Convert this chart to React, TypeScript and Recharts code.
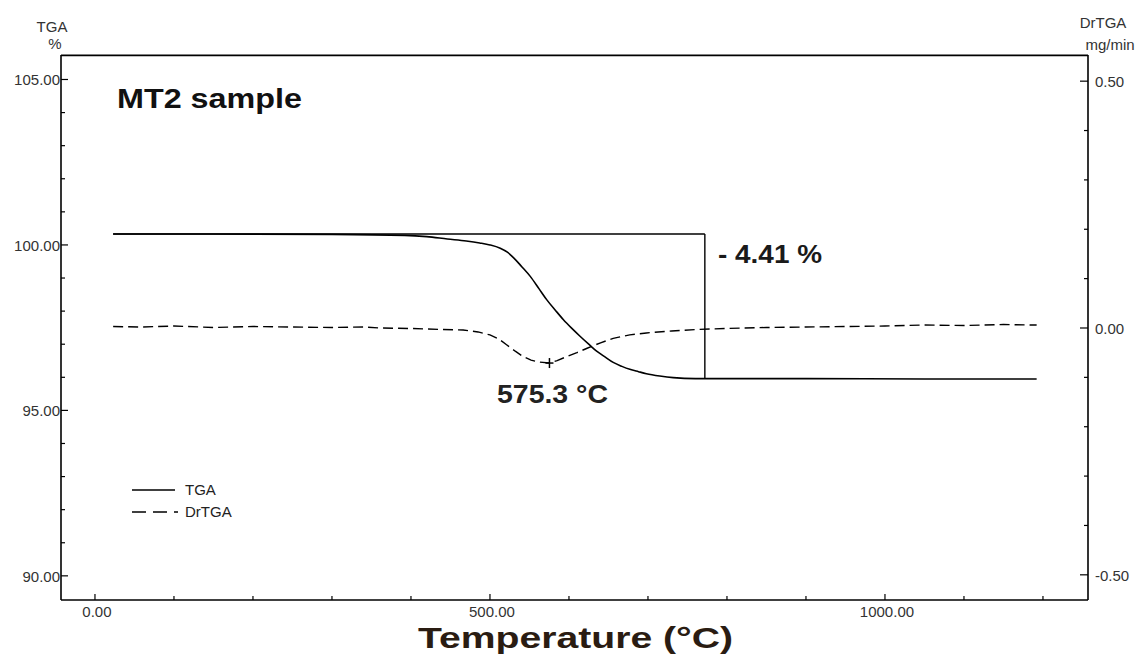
import React from 'react';
import { ComposedChart, Line, XAxis, YAxis, ReferenceLine, ReferenceDot, Legend } from 'recharts';

// ---- data ----
const tgaTemps = [23, 150, 300, 392, 420, 446, 470, 487, 500, 513, 522, 530, 540, 551, 562, 572, 583, 593, 604, 614, 625, 635, 646, 656, 667, 677, 688, 698, 715, 732, 760, 900, 1050, 1192];
const tgaValues = [100.33, 100.33, 100.32, 100.29, 100.25, 100.18, 100.12, 100.06, 100.0, 99.9, 99.78, 99.61, 99.35, 99.05, 98.68, 98.34, 98.02, 97.74, 97.47, 97.24, 97.0, 96.79, 96.61, 96.45, 96.33, 96.24, 96.17, 96.11, 96.04, 95.99, 95.96, 95.96, 95.95, 95.95];

const drTemps = [23, 60, 100, 150, 200, 250, 300, 340, 361, 400, 440, 466, 485, 500, 511, 521, 532, 542, 552, 562, 575.3, 585, 597, 610, 623, 640, 656, 677, 698, 730, 762, 800, 850, 900, 950, 1000, 1050, 1100, 1150, 1192];
const drValues = [0.003, 0.002, 0.004, 0.001, 0.003, 0.002, 0.001, 0.002, 0.0, -0.001, -0.003, -0.004, -0.008, -0.014, -0.022, -0.034, -0.047, -0.058, -0.065, -0.069, -0.071, -0.066, -0.058, -0.05, -0.041, -0.03, -0.021, -0.014, -0.01, -0.006, -0.003, -0.001, 0.001, 0.002, 0.003, 0.004, 0.006, 0.005, 0.007, 0.006];

const seriesNames = ['TGA', 'DrTGA'];

const xTicks = [0, 100, 200, 300, 400, 500, 600, 700, 800, 900, 1000, 1100, 1200];
const xLabelTicks = [0, 500, 1000];
const leftTicks = [90, 91, 92, 93, 94, 95, 96, 97, 98, 99, 100, 101, 102, 103, 104, 105];
const leftLabelTicks = [90, 95, 100, 105];
const rightTicks = [-0.5, -0.4, -0.3, -0.2, -0.1, 0, 0.1, 0.2, 0.3, 0.4, 0.5];
const rightLabelTicks = [-0.5, 0, 0.5];

const xDomain = [-43, 1257];
const leftDomain = [89.27, 105.74];
const rightDomain = [-0.551, 0.553];

const stepStartT = 23;
const stepEndT = 772;
const stepTop = 100.33;
const stepBottom = 95.95;
const peakT = 575.3;
const peakV = -0.071;

const tgaData = tgaTemps.map((t, i) => ({ t, tga: tgaValues[i] }));
const drData = drTemps.map((t, i) => ({ t, dr: drValues[i] }));

const FONT = 'Liberation Sans, Arial, sans-serif';
const isIn = (arr: number[], v: number) => arr.some((a) => Math.abs(a - v) < 1e-6);

const BottomTick = (props: any) => {
  const { x, y, payload } = props;
  const v = payload.value;
  const major = isIn(xLabelTicks, v);
  return (
    <g>
      <line x1={x} x2={x} y1={y} y2={y - (major ? 6 : 4)} stroke="#000" strokeWidth={1.2} />
      {major && (
        <text x={x + 2} y={y + 17} textAnchor="middle" fontSize={15} fill="#333" fontFamily={FONT}>
          {v.toFixed(2)}
        </text>
      )}
    </g>
  );
};

const LeftTick = (props: any) => {
  const { x, y, payload } = props;
  const v = payload.value;
  const major = isIn(leftLabelTicks, v);
  return (
    <g>
      <line x1={x} x2={x + (major ? 7 : 4)} y1={y} y2={y} stroke="#000" strokeWidth={1.2} />
      {major && (
        <text x={x - 1} y={y + 6} textAnchor="end" fontSize={15} fill="#333" fontFamily={FONT}>
          {v.toFixed(2)}
        </text>
      )}
    </g>
  );
};

const RightTick = (props: any) => {
  const { x, y, payload } = props;
  const v = payload.value;
  const major = isIn(rightLabelTicks, v);
  return (
    <g>
      <line x1={x} x2={x - (major ? 8 : 4)} y1={y} y2={y} stroke="#000" strokeWidth={1.2} />
      {major && (
        <text x={x + 7} y={y + 6} textAnchor="start" fontSize={15} fill="#333" fontFamily={FONT}>
          {(Math.abs(v) < 1e-9 ? 0 : v).toFixed(2)}
        </text>
      )}
    </g>
  );
};

const renderLegend = (props: any) => {
  const items = [...(props.payload || [])].sort(
    (a: any, b: any) => seriesNames.indexOf(a.value) - seriesNames.indexOf(b.value)
  );
  return (
    <svg width={140} height={46}>
      {items.map((it: any, i: number) => {
        const dashed = it.value === 'DrTGA';
        return (
          <g key={it.value}>
            <line
              x1={4}
              x2={dashed ? 50 : 47}
              y1={12 + i * 22}
              y2={12 + i * 22}
              stroke="#000"
              strokeWidth={1.5}
              strokeDasharray={dashed ? '14 7' : undefined}
            />
            <text x={57} y={17 + i * 22} fontSize={15} fill="#222" fontFamily={FONT}>
              {it.value}
            </text>
          </g>
        );
      })}
    </svg>
  );
};

const PeakCross = (props: any) => {
  const { cx, cy } = props;
  return (
    <g>
      <line x1={cx} x2={cx} y1={cy - 5} y2={cy + 5} stroke="#000" strokeWidth={1.5} />
      <line x1={cx - 4} x2={cx + 4} y1={cy} y2={cy} stroke="#000" strokeWidth={1.5} />
    </g>
  );
};

export default function App() {
  return (
    <div style={{ position: 'absolute', left: 0, top: 0, width: 1138, height: 655, background: '#fff' }}>
      <ComposedChart width={1138} height={655} margin={{ top: 55, right: 0, bottom: 0, left: 0 }}>
        <XAxis
          dataKey="t"
          type="number"
          domain={xDomain}
          allowDataOverflow
          ticks={xTicks}
          interval={0}
          height={55}
          tickLine={false}
          tickSize={0}
          tickMargin={0}
          tick={<BottomTick />}
          axisLine={{ stroke: '#000', strokeWidth: 1.6 }}
        />
        <YAxis
          yAxisId="left"
          type="number"
          domain={leftDomain}
          allowDataOverflow
          ticks={leftTicks}
          interval={0}
          width={61}
          tickLine={false}
          tickSize={0}
          tickMargin={0}
          tick={<LeftTick />}
          axisLine={{ stroke: '#000', strokeWidth: 1.6 }}
        />
        <YAxis
          yAxisId="right"
          orientation="right"
          type="number"
          domain={rightDomain}
          allowDataOverflow
          ticks={rightTicks}
          interval={0}
          width={50}
          tickLine={false}
          tickSize={0}
          tickMargin={0}
          tick={<RightTick />}
          axisLine={{ stroke: '#000', strokeWidth: 1.6 }}
        />
        <Legend
          layout="horizontal"
          verticalAlign="middle"
          align="center"
          content={renderLegend}
          wrapperStyle={{ position: 'absolute', left: 128, top: 478, width: 140, height: 46 }}
        />
        {/* top frame line */}
        <ReferenceLine
          yAxisId="left"
          segment={[{ x: xDomain[0], y: leftDomain[1] - 0.01 }, { x: xDomain[1], y: leftDomain[1] - 0.01 }]}
          ifOverflow="visible"
          stroke="#000"
          strokeWidth={1.6}
        />
        <ReferenceLine
          yAxisId="left"
          segment={[{ x: stepStartT, y: stepTop }, { x: stepEndT, y: stepTop }]}
          stroke="#000"
          strokeWidth={1.4}
        />
        <ReferenceLine
          yAxisId="left"
          segment={[{ x: stepEndT, y: stepTop }, { x: stepEndT, y: stepBottom }]}
          stroke="#000"
          strokeWidth={1.4}
        />
        <Line
          data={tgaData}
          dataKey="tga"
          name="TGA"
          yAxisId="left"
          type="monotone"
          stroke="#000"
          strokeWidth={1.6}
          dot={false}
          isAnimationActive={false}
        />
        <Line
          data={drData}
          dataKey="dr"
          name="DrTGA"
          yAxisId="right"
          type="linear"
          stroke="#000"
          strokeWidth={1.4}
          strokeDasharray="10 5"
          dot={false}
          isAnimationActive={false}
        />
        <ReferenceDot yAxisId="right" x={peakT} y={peakV} r={0} shape={<PeakCross />} />

        <text x={52} y={32} textAnchor="middle" fontSize={15} fill="#333" fontFamily={FONT}>TGA</text>
        <text x={55} y={49} textAnchor="middle" fontSize={15} fill="#333" fontFamily={FONT}>%</text>
        <text x={1103} y={28} textAnchor="middle" fontSize={15} fill="#333" fontFamily={FONT}>DrTGA</text>
        <text x={1110} y={50} textAnchor="middle" fontSize={15} fill="#333" fontFamily={FONT}>mg/min</text>

        <text x={117} y={108} fontSize={28} fontWeight="bold" fill="#111" fontFamily={FONT} textLength={185} lengthAdjust="spacingAndGlyphs">MT2 sample</text>
        <text x={718} y={263} fontSize={25} fontWeight="bold" fill="#1a1a1a" fontFamily={FONT} textLength={104} lengthAdjust="spacingAndGlyphs">- 4.41 %</text>
        <text x={497} y={403} fontSize={25} fontWeight="bold" fill="#222" fontFamily={FONT} textLength={111} lengthAdjust="spacingAndGlyphs">575.3 °C</text>
        <text x={418} y={648} fontSize={29} fontWeight="bold" fill="#2a1c12" fontFamily={FONT} textLength={315} lengthAdjust="spacingAndGlyphs">Temperature (°C)</text>
      </ComposedChart>
    </div>
  );
}
